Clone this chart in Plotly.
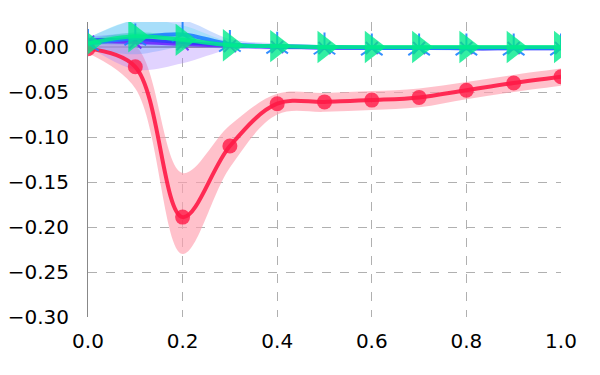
import plotly.graph_objects as go

x = [0.0, 0.1, 0.2, 0.3, 0.4, 0.5, 0.6, 0.7, 0.8, 0.9, 1.0]

red = [-0.002, -0.022, -0.189, -0.110, -0.063, -0.061, -0.059, -0.056, -0.048, -0.040, -0.033]
red_lo = [-0.007, -0.046, -0.230, -0.134, -0.075, -0.072, -0.070, -0.067, -0.058, -0.050, -0.043]
red_hi = [0.002, 0.001, -0.140, -0.087, -0.052, -0.051, -0.049, -0.046, -0.039, -0.031, -0.024]

purple = [0.006, 0.005, 0.003, 0.001, 0.000, -0.001, -0.001, -0.001, -0.001, -0.001, -0.001]
purple_lo = [0.001, -0.025, -0.018, -0.003, -0.003, -0.003, -0.003, -0.003, -0.003, -0.003, -0.003]
purple_hi = [0.010, 0.016, 0.012, 0.005, 0.003, 0.002, 0.001, 0.001, 0.001, 0.001, 0.001]

indigo = [0.008, 0.008, 0.005, 0.002, 0.000, -0.001, -0.001, -0.001, -0.002, -0.002, -0.002]
indigo_lo = [0.004, 0.002, 0.000, -0.001, -0.002, -0.003, -0.003, -0.003, -0.004, -0.004, -0.004]
indigo_hi = [0.012, 0.014, 0.010, 0.005, 0.002, 0.001, 0.001, 0.001, 0.000, 0.000, 0.000]

blue = [0.004, 0.010, 0.014, 0.003, 0.001, 0.000, -0.001, -0.001, -0.001, -0.001, -0.001]
blue_lo = [-0.001, -0.008, 0.000, -0.002, -0.002, -0.002, -0.003, -0.003, -0.003, -0.003, -0.003]
blue_hi = [0.010, 0.030, 0.030, 0.009, 0.004, 0.002, 0.001, 0.001, 0.001, 0.001, 0.001]

cyan = [0.006, 0.012, 0.012, 0.003, 0.001, 0.000, 0.000, 0.000, 0.000, 0.000, 0.000]
cyan_lo = [0.002, 0.004, 0.006, 0.000, -0.001, -0.001, -0.001, -0.001, -0.001, -0.001, -0.001]
cyan_hi = [0.010, 0.030, 0.024, 0.006, 0.003, 0.001, 0.001, 0.001, 0.001, 0.001, 0.001]

green = [0.004, 0.012, 0.008, 0.002, 0.001, 0.000, 0.000, 0.000, 0.000, 0.000, 0.000]
green_lo = [0.000, 0.008, 0.004, 0.000, -0.001, -0.001, -0.001, -0.001, -0.001, -0.001, -0.001]
green_hi = [0.008, 0.016, 0.012, 0.004, 0.002, 0.001, 0.001, 0.001, 0.001, 0.001, 0.001]

x_ticks = [0.0, 0.2, 0.4, 0.6, 0.8, 1.0]
x_labels = ["0.0", "0.2", "0.4", "0.6", "0.8", "1.0"]
y_ticks = [0.00, -0.05, -0.10, -0.15, -0.20, -0.25, -0.30]
y_labels = ["0.00", "\u22120.05", "\u22120.10", "\u22120.15", "\u22120.20", "\u22120.25", "\u22120.30"]

fig = go.Figure()


def add_band(lo, hi, fillcolor):
    fig.add_trace(go.Scatter(x=x, y=lo, mode="lines", line=dict(width=0, shape="spline"),
                             showlegend=False, hoverinfo="skip"))
    fig.add_trace(go.Scatter(x=x, y=hi, mode="lines", line=dict(width=0, shape="spline"),
                             fill="tonexty", fillcolor=fillcolor, showlegend=False, hoverinfo="skip"))


add_band(red_lo, red_hi, "rgba(255,160,175,0.65)")
add_band(purple_lo, purple_hi, "rgba(170,130,255,0.35)")
add_band(indigo_lo, indigo_hi, "rgba(90,90,255,0.25)")
add_band(blue_lo, blue_hi, "rgba(110,160,255,0.35)")
add_band(cyan_lo, cyan_hi, "rgba(0,220,230,0.18)")
add_band(green_lo, green_hi, "rgba(0,240,140,0.30)")

fig.add_trace(go.Scatter(x=x, y=red, mode="lines+markers",
                         line=dict(color="rgba(255,25,70,0.9)", width=4, shape="spline"),
                         marker=dict(symbol="circle", size=15, color="rgba(255,25,70,0.8)"),
                         showlegend=False))
fig.add_trace(go.Scatter(x=x, y=purple, mode="lines+markers",
                         line=dict(color="rgba(110,40,255,0.9)", width=3, shape="spline"),
                         marker=dict(symbol="x-thin", size=12, line=dict(color="rgba(110,40,255,0.9)", width=2)),
                         showlegend=False))
fig.add_trace(go.Scatter(x=x, y=indigo, mode="lines",
                         line=dict(color="rgba(50,50,255,0.9)", width=3, shape="spline"),
                         showlegend=False))
fig.add_trace(go.Scatter(x=x, y=blue, mode="lines+markers",
                         line=dict(color="rgba(30,130,255,0.9)", width=4, shape="spline"),
                         marker=dict(symbol="y-up", size=18, line=dict(color="rgba(30,130,255,0.9)", width=2)),
                         showlegend=False))
fig.add_trace(go.Scatter(x=x, y=green, mode="lines+markers",
                         line=dict(color="rgba(0,235,140,0.85)", width=4, shape="spline"),
                         marker=dict(symbol="triangle-right", size=28, color="rgba(0,235,140,0.8)"),
                         showlegend=False))

# page body has an 8px margin, so the figure is offset by 8px; compensate
fig.update_layout(
    width=592, height=367,
    margin=dict(l=80, r=39, t=14, b=58),
    paper_bgcolor="white", plot_bgcolor="white",
    font=dict(family="DejaVu Sans", size=20, color="black"),
    showlegend=False,
)
fig.update_xaxes(range=[0, 1], tickvals=x_ticks, ticktext=x_labels,
                 showgrid=True, gridcolor="#b0b0b0", griddash="dash", gridwidth=1,
                 zeroline=False, showline=False, ticks="outside", ticklen=6,
                 tickcolor="rgba(0,0,0,0)", automargin=False)
fig.update_yaxes(range=[-0.30, 0.0278], tickvals=y_ticks, ticktext=y_labels,
                 showgrid=True, gridcolor="#b0b0b0", griddash="dash", gridwidth=1,
                 zeroline=True, zerolinecolor="#888888", zerolinewidth=2,
                 showline=True, linecolor="#888888", linewidth=1, ticks="outside", ticklen=14,
                 tickcolor="rgba(0,0,0,0)", automargin=False)

fig.write_html("out.html")
